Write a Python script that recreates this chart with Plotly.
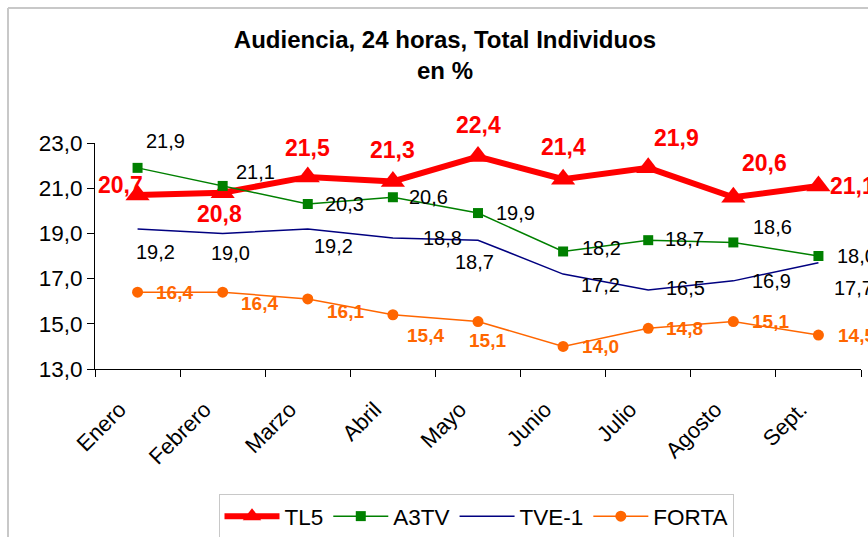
import plotly.graph_objects as go

months = ["Enero", "Febrero", "Marzo", "Abril", "Mayo", "Junio", "Julio", "Agosto", "Sept."]
tl5 = [20.7, 20.8, 21.5, 21.3, 22.4, 21.4, 21.9, 20.6, 21.1]
a3tv = [21.9, 21.1, 20.3, 20.6, 19.9, 18.2, 18.7, 18.6, 18.0]
tve1 = [19.2, 19.0, 19.2, 18.8, 18.7, 17.2, 16.5, 16.9, 17.7]
forta = [16.4, 16.4, 16.1, 15.4, 15.1, 14.0, 14.8, 15.1, 14.5]
yticks = [13, 15, 17, 19, 21, 23]

# label offsets in pixels (dx, dy-down) - style only
off_tl5 = [(-17, -10), (-3, 21), (0, -29), (0, -31), (0, -32), (0, -32), (28, -30), (31, -34), (34, 0)]
off_a3tv = [(28, -27), (33, -14), (37, 0), (36, 0), (37, 0), (38, -3), (36, -1), (39, -15), (38, 0)]
off_tve1 = [(18, 23), (8, 20), (26, 17), (50, 0), (-4, 22), (37, 11), (37, -2), (38, 0), (35, 25)]
off_forta = [(37, 0), (37, 11), (38, 13), (33, 21), (9, 19), (37, 0), (36, 0), (37, 0), (38, 0)]

FONT = "Arial, Liberation Sans, sans-serif"


def fmt(v):
    return f"{v:.1f}".replace(".", ",")


fig = go.Figure()
fig.add_trace(go.Scatter(x=months, y=tl5, name="TL5", mode="lines+markers",
                         line=dict(color="#FF0000", width=6),
                         marker=dict(symbol="triangle-up", size=21, color="#FF0000")))
fig.add_trace(go.Scatter(x=months, y=a3tv, name="A3TV", mode="lines+markers",
                         line=dict(color="#008000", width=1.5),
                         marker=dict(symbol="square", size=10, color="#008000")))
fig.add_trace(go.Scatter(x=months, y=tve1, name="TVE-1", mode="lines",
                         line=dict(color="#000080", width=1.5)))
fig.add_trace(go.Scatter(x=months, y=forta, name="FORTA", mode="lines+markers",
                         line=dict(color="#FF6600", width=1.5),
                         marker=dict(symbol="circle", size=11, color="#FF6600")))

annotations = []
specs = [
    (tl5, off_tl5, dict(color="#FF0000", size=23), True),
    (a3tv, off_a3tv, dict(color="#000000", size=20), False),
    (tve1, off_tve1, dict(color="#000000", size=20), False),
    (forta, off_forta, dict(color="#FF6600", size=19), True),
]
for vals, offs, font, bold in specs:
    for m, v, (dx, dy) in zip(months, vals, offs):
        t = fmt(v)
        if bold:
            t = f"<b>{t}</b>"
        annotations.append(dict(x=m, y=v, xref="x", yref="y", text=t, showarrow=False,
                                xanchor="center", yanchor="middle", xshift=dx, yshift=-dy,
                                font=dict(family=FONT, **font)))

frame = dict(color="#C8C8C8", width=2)
fig.update_layout(
    width=868, height=537,
    margin=dict(l=95, r=7, t=143, b=168, autoexpand=False),
    paper_bgcolor="white", plot_bgcolor="white",
    font=dict(family=FONT, color="#000000"),
    separators=", ",
    title=dict(text="<b>Audiencia, 24 horas, Total Individuos<br>en %</b>",
               x=445 / 868, xanchor="center", xref="container",
               y=1 - 48 / 537, yanchor="top", yref="container",
               font=dict(family=FONT, size=24, color="#000000")),
    xaxis=dict(type="category", range=[-0.5, len(months) - 0.5],
               showline=True, linecolor="#000000", linewidth=1,
               ticks="outside", ticklen=7, tickcolor="#000000", tickson="boundaries",
               tickangle=-45, tickfont=dict(size=22), showgrid=False, zeroline=False,
               ticklabelshift=-18, ticklabelstandoff=18, automargin=False),
    yaxis=dict(range=[13, 23], tickvals=yticks, tickformat=".1f", showline=True,
               linecolor="#000000", linewidth=1, ticks="outside", ticklen=7,
               tickcolor="#000000", tickfont=dict(size=22.5), showgrid=False, zeroline=False,
               automargin=False),
    legend=dict(orientation="h", x=476 / 868, xanchor="center", xref="container",
                y=1 - 494 / 537, yanchor="top", yref="container",
                bordercolor="#C8C8C8", borderwidth=1, font=dict(size=22.5),
                itemwidth=55, bgcolor="white"),
    annotations=annotations,
    shapes=[
        dict(type="line", xref="paper", yref="paper",
             x0=(8 - 95) / 766, x1=(868 - 95) / 766, y0=(369 - 8) / 226, y1=(369 - 8) / 226,
             line=frame, layer="below"),
        dict(type="line", xref="paper", yref="paper",
             x0=(8 - 95) / 766, x1=(8 - 95) / 766, y0=(369 - 8) / 226, y1=(369 - 537) / 226,
             line=frame, layer="below"),
    ],
    showlegend=True,
)

fig.write_html("out.html", config={"displayModeBar": False},
               post_script="document.body.style.margin='0';document.body.style.overflow='hidden';")
